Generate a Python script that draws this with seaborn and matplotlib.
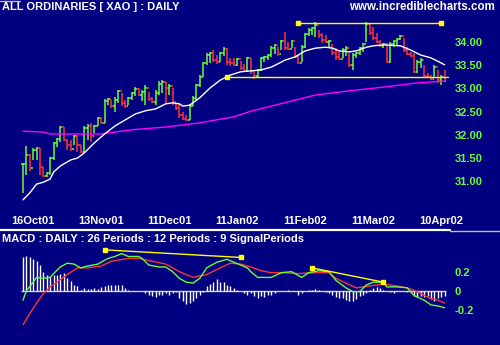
import numpy as np
import pandas as pd
import matplotlib
matplotlib.use("Agg")
import matplotlib.pyplot as plt
import seaborn as sns
from matplotlib.lines import Line2D

# ---------------- data ----------------
high = [31.39, 31.76, 31.59, 31.72, 31.74, 31.72, 31.31, 31.20, 31.52, 31.85,
        31.93, 32.19, 32.17, 31.91, 31.89, 32.00, 32.00, 31.78, 32.19, 32.23,
        32.26, 32.21, 32.39, 32.39, 32.77, 32.80, 32.75, 32.82, 32.97, 32.90,
        32.75, 32.82, 32.92, 33.03, 33.01, 32.97, 33.08, 32.92, 32.82, 32.97,
        33.16, 33.18, 33.14, 33.10, 33.01, 32.69, 32.67, 32.49, 32.43, 32.67,
        32.84, 33.10, 33.29, 33.57, 33.77, 33.79, 33.83, 33.72, 33.79, 33.89,
        33.87, 33.66, 33.66, 33.66, 33.59, 33.53, 33.68, 33.66, 33.38, 33.42,
        33.68, 33.70, 33.74, 33.92, 33.96, 33.89, 34.04, 34.22, 34.00, 34.04,
        33.89, 33.72, 33.94, 34.20, 34.30, 34.32, 34.43, 34.26, 34.20, 34.15,
        34.04, 33.96, 33.87, 33.79, 33.87, 33.92, 33.77, 33.77, 33.79, 33.89,
        33.98, 34.43, 34.41, 34.32, 34.20, 34.04, 33.98, 33.98, 34.00, 34.04,
        34.09, 34.15, 34.09, 33.89, 33.79, 33.77, 33.61, 33.66, 33.51, 33.33,
        33.29, 33.51, 33.40, 33.29, 33.40]
low = [30.75, 31.14, 31.22, 31.46, 31.46, 31.14, 31.09, 31.09, 31.14, 31.46,
       31.74, 31.85, 31.87, 31.67, 31.65, 31.78, 31.63, 31.61, 31.63, 31.89,
       31.85, 32.04, 32.19, 32.23, 32.26, 32.64, 32.58, 32.49, 32.69, 32.62,
       32.58, 32.64, 32.75, 32.84, 32.84, 32.73, 32.64, 32.73, 32.69, 32.64,
       32.86, 32.90, 32.67, 32.86, 32.64, 32.54, 32.36, 32.32, 32.30, 32.32,
       32.62, 32.75, 33.03, 33.25, 33.51, 33.55, 33.57, 33.53, 33.57, 33.70,
       33.51, 33.49, 33.49, 33.49, 33.40, 33.36, 33.36, 33.31, 33.20, 33.23,
       33.38, 33.57, 33.61, 33.68, 33.74, 33.70, 33.83, 33.83, 33.83, 33.87,
       33.66, 33.53, 33.57, 33.87, 34.13, 34.15, 34.11, 34.09, 33.98, 33.98,
       33.89, 33.72, 33.61, 33.61, 33.66, 33.70, 33.46, 33.40, 33.66, 33.72,
       33.79, 34.00, 34.15, 34.04, 33.98, 33.89, 33.87, 33.55, 33.55, 33.89,
       33.94, 34.04, 33.79, 33.72, 33.68, 33.33, 33.33, 33.44, 33.25, 33.23,
       33.18, 33.25, 33.12, 33.08, 33.14]
close = [31.37, 31.57, 31.29, 31.67, 31.72, 31.31, 31.11, 31.18, 31.50, 31.83,
         31.91, 32.17, 31.89, 31.78, 31.70, 31.98, 31.78, 31.63, 32.15, 32.19,
         31.98, 32.19, 32.36, 32.26, 32.73, 32.77, 32.62, 32.75, 32.95, 32.69,
         32.62, 32.80, 32.90, 32.99, 32.86, 32.92, 33.01, 32.77, 32.71, 32.90,
         33.10, 33.14, 33.01, 33.05, 32.71, 32.58, 32.43, 32.34, 32.32, 32.62,
         32.80, 33.08, 33.25, 33.55, 33.72, 33.77, 33.61, 33.57, 33.77, 33.85,
         33.57, 33.55, 33.51, 33.64, 33.44, 33.38, 33.66, 33.38, 33.27, 33.40,
         33.66, 33.68, 33.72, 33.87, 33.94, 33.74, 34.02, 33.87, 33.85, 34.02,
         33.68, 33.55, 33.89, 34.17, 34.26, 34.30, 34.37, 34.15, 34.04, 34.00,
         34.02, 33.77, 33.68, 33.64, 33.83, 33.87, 33.51, 33.72, 33.77, 33.87,
         33.96, 34.39, 34.20, 34.09, 34.00, 33.92, 33.96, 33.57, 33.96, 34.02,
         34.07, 34.13, 33.83, 33.74, 33.70, 33.36, 33.57, 33.61, 33.27, 33.25,
         33.20, 33.46, 33.18, 33.25, 33.16]

ma_short_idx = [0, 2, 4, 6, 8, 9, 11, 14, 16, 18, 21, 24, 27, 30, 33, 36, 39, 42, 44,
                46, 47, 49, 52, 55, 58, 61, 64, 67, 70, 73, 76, 77, 80, 83, 86, 89,
                91, 93, 96, 98, 101, 103, 106, 111, 114, 117, 120, 123, 124]
ma_short_val = [30.60, 30.75, 30.94, 30.98, 31.05, 31.20, 31.33, 31.46, 31.50, 31.61,
                31.83, 32.02, 32.19, 32.32, 32.45, 32.52, 32.56, 32.67, 32.69, 32.67,
                32.62, 32.64, 32.80, 33.01, 33.18, 33.29, 33.36, 33.38, 33.40, 33.46,
                33.57, 33.61, 33.68, 33.81, 33.87, 33.89, 33.87, 33.81, 33.79, 33.81,
                33.89, 33.92, 33.94, 33.92, 33.83, 33.72, 33.66, 33.55, 33.51]
ma_long_idx = [0, 6, 8, 23, 32, 42, 52, 62, 67, 79, 86, 96, 106, 116, 124]
ma_long_val = [32.08, 32.06, 32.02, 32.02, 32.11, 32.17, 32.26, 32.39, 32.51, 32.73,
               32.86, 32.95, 33.03, 33.12, 33.16]

resistance_level = 34.41
resistance_idx = [81, 123]
support_level = 33.25
support_idx = [60, 125]

macd_idx = [0, 1, 3, 4, 6, 8, 9, 11, 13, 15, 17, 19, 22, 25, 27, 29, 31, 34, 35, 37,
            40, 42, 44, 46, 48, 50, 52, 54, 57, 60, 62, 66, 67, 69, 73, 76, 79, 82,
            84, 87, 90, 92, 95, 97, 99, 101, 103, 106, 107, 110, 113, 115, 118, 120,
            122, 124]
macd_val = [-0.10, 0.00, 0.09, 0.14, 0.13, 0.14, 0.18, 0.25, 0.29, 0.28, 0.24, 0.26,
            0.28, 0.34, 0.36, 0.39, 0.36, 0.36, 0.34, 0.27, 0.25, 0.25, 0.20, 0.13,
            0.09, 0.08, 0.13, 0.24, 0.30, 0.33, 0.30, 0.24, 0.20, 0.14, 0.14, 0.19,
            0.20, 0.14, 0.19, 0.21, 0.20, 0.11, 0.03, -0.01, -0.01, 0.06, 0.09, 0.09,
            0.04, 0.04, 0.03, -0.05, -0.10, -0.15, -0.16, -0.18]
signal_idx = [0, 2, 4, 6, 8, 10, 13, 16, 19, 23, 26, 31, 34, 38, 42, 46, 50, 54, 58,
              61, 64, 66, 67, 70, 73, 76, 81, 86, 90, 92, 95, 98, 102, 106, 110, 113,
              116, 119, 122, 124]
signal_val = [-0.36, -0.24, -0.13, -0.03, 0.04, 0.09, 0.17, 0.24, 0.24, 0.26, 0.31,
              0.34, 0.34, 0.31, 0.28, 0.20, 0.14, 0.17, 0.24, 0.29, 0.28, 0.26, 0.25,
              0.21, 0.19, 0.19, 0.18, 0.19, 0.19, 0.13, 0.08, 0.03, 0.05, 0.07, 0.05,
              0.03, -0.01, -0.07, -0.10, -0.13]
hist = [0.36, 0.37, 0.35, 0.33, 0.31, 0.27, 0.20, 0.17, 0.15, 0.17, 0.17, 0.18, 0.19,
        0.13, 0.10, 0.06, 0.05, 0.01, 0.03, 0.02, 0.02, 0.03, 0.02, 0.04, 0.05, 0.06,
        0.06, 0.06, 0.06, 0.06, 0.03, 0.01, 0.0, 0.0, 0.0, 0.0, -0.02, -0.04, -0.06,
        -0.07, -0.05, -0.04, -0.02, -0.04, -0.02, -0.01, -0.08, -0.11, -0.14, -0.13,
        -0.11, -0.08, -0.04, -0.01, 0.05, 0.07, 0.09, 0.12, 0.09, 0.09, 0.06, 0.05,
        0.03, 0.01, 0.0, -0.02, -0.04, -0.02,
        -0.06, -0.08, -0.06, -0.07, -0.05, -0.04, -0.02, 0.0, 0.0, 0.0, 0.01, 0.0,
        0.0, -0.04, -0.02, 0.0, 0.01, 0.01, 0.02, 0.01, 0.0, -0.01, -0.02, -0.05,
        -0.07, -0.08, -0.08, -0.10, -0.11, -0.11, -0.09, -0.06, -0.04, -0.02, 0.01,
        0.03, 0.04, 0.03, 0.01, 0.0, -0.01, -0.02, 0.0, 0.0, 0.0, -0.01, -0.02, -0.06,
        -0.07, -0.06, -0.07, -0.06, -0.09, -0.11, -0.08, -0.07, -0.06]
macd_trend1_idx = [24, 64]
macd_trend1_val = [0.43, 0.35]
macd_trend2_idx = [85, 106]
macd_trend2_val = [0.24, 0.09]

date_idx = [3, 23, 43, 63, 83, 103, 123]
date_labels = ["16Oct01", "13Nov01", "11Dec01", "11Jan02", "11Feb02", "11Mar02", "10Apr02"]
price_ticks = [31.0, 31.5, 32.0, 32.5, 33.0, 33.5, 34.0]
macd_ticks = [0.2, 0.0, -0.2]
macd_tick_labels = ["0.2", "0", "-0.2"]

# ---------------- styling ----------------
BG = "#000080"
GREEN = "#66ff33"
RED = "#ff3333"
YELLOW = "#ffff00"
MAGENTA = "#ff00ff"
W, H = 500, 345

sns.set_theme(style="dark", rc={"axes.facecolor": BG, "figure.facecolor": BG})
plt.rcParams["font.family"] = ["Liberation Sans", "DejaVu Sans"]
plt.rcParams["font.weight"] = "bold"

fig = plt.figure(figsize=(W / 100, H / 100), dpi=100, facecolor=BG)


def px_axes(x0, y0, x1, y1):
    return fig.add_axes([x0 / W, 1 - y1 / H, (x1 - x0) / W, (y1 - y0) / H])


# ---------------- price panel ----------------
ax = px_axes(0, 14, 452, 205)
ax.set_facecolor(BG)
n = len(close)
idx = np.arange(n)
close_a = np.array(close)
opens = np.r_[close_a[0], close_a[:-1]]
cols = [GREEN if c >= o else RED for c, o in zip(close_a, opens)]
ax.vlines(idx, low, high, colors=cols, lw=1.1)
ax.hlines(close_a, idx, idx + 0.5, colors=cols, lw=1.1)
ax.hlines(opens, idx - 0.5, idx, colors=cols, lw=1.1)

sns.lineplot(x=ma_long_idx, y=ma_long_val, ax=ax, color=MAGENTA, lw=1.0)
sns.lineplot(x=ma_short_idx, y=ma_short_val, ax=ax, color="white", lw=1.0)

ax.plot(resistance_idx, [resistance_level] * 2, color=YELLOW, lw=1.0)
ax.plot(resistance_idx, [resistance_level] * 2, ls="none", marker="s", ms=3, color=YELLOW)
ax.plot(support_idx, [support_level] * 2, color=YELLOW, lw=1.0)
ax.plot(support_idx[:1], [support_level], ls="none", marker="s", ms=3, color=YELLOW)

ax.set_xlim((0 - 23) / 3.4, (452 - 23) / 3.4)
ax.set_ylim(33 + (88.5 - 205) / 46.4, 33 + (88.5 - 14) / 46.4)
ax.yaxis.tick_right()
ax.set_yticks(price_ticks)
ax.set_yticklabels([f"{v:.2f}" for v in price_ticks], color=GREEN, fontsize=8, fontweight="bold")
ax.set_xticks(date_idx)
ax.set_xticklabels(date_labels, color="white", fontsize=8, fontweight="bold")
ax.tick_params(axis="both", length=0)
ax.tick_params(axis="y", pad=2)
ax.tick_params(axis="x", pad=8)
ax.grid(False)
ax.set_xlabel("")
ax.set_ylabel("")
for s in ax.spines.values():
    s.set_visible(False)

# ---------------- MACD panel ----------------
ax2 = px_axes(0, 245, 452, 340)
ax2.set_facecolor(BG)
ax2.hlines(0, -0.5, n - 0.5, colors="#d0d0d0", lw=1.0)
ax2.vlines(idx, 0, hist, colors="white", lw=1.0)
sns.lineplot(x=signal_idx, y=signal_val, ax=ax2, color=RED, lw=1.0)
sns.lineplot(x=macd_idx, y=macd_val, ax=ax2, color=GREEN, lw=1.0)
for ti, tv in ((macd_trend1_idx, macd_trend1_val), (macd_trend2_idx, macd_trend2_val)):
    ax2.plot(ti, tv, color=YELLOW, lw=1.0)
    ax2.plot(ti, tv, ls="none", marker="s", ms=3, color=YELLOW)
ax2.set_xlim((0 - 23) / 3.4, (452 - 23) / 3.4)
ax2.set_ylim((290.7 - 340) / 95, (290.7 - 245) / 95)
ax2.yaxis.tick_right()
ax2.set_yticks(macd_ticks)
ax2.set_yticklabels(macd_tick_labels, color=GREEN, fontsize=8, fontweight="bold")
ax2.set_xticks([])
ax2.tick_params(axis="both", length=0)
ax2.tick_params(axis="y", pad=2)
ax2.grid(False)
ax2.set_xlabel("")
ax2.set_ylabel("")
for s in ax2.spines.values():
    s.set_visible(False)

# ---------------- texts and separators ----------------
fig.text(2 / W, 1 - 7 / H, "ALL ORDINARIES [ XAO ] : DAILY", color="white",
         fontsize=8, fontweight="bold", ha="left", va="center")
fig.text(495 / W, 1 - 7 / H, "www.incrediblecharts.com", color="white",
         fontsize=8.3, fontweight="bold", ha="right", va="center")
fig.text(2 / W, 1 - 238.5 / H, "MACD : DAILY : 26 Periods : 12 Periods : 9 SignalPeriods",
         color="white", fontsize=8, fontweight="bold", ha="left", va="center")
fig.add_artist(Line2D([0, 450 / W], [1 - 229.5 / H] * 2, color="white", lw=1.6))
fig.add_artist(Line2D([450 / W, 1], [1 - 231 / H] * 2, color="#c0c0c0", lw=1.0))
fig.add_artist(Line2D([0, 20 / W], [1 - 0.5 / H] * 2, color="#c0c0c0", lw=1.0))

fig.savefig("out.png", dpi=100, facecolor=BG)
